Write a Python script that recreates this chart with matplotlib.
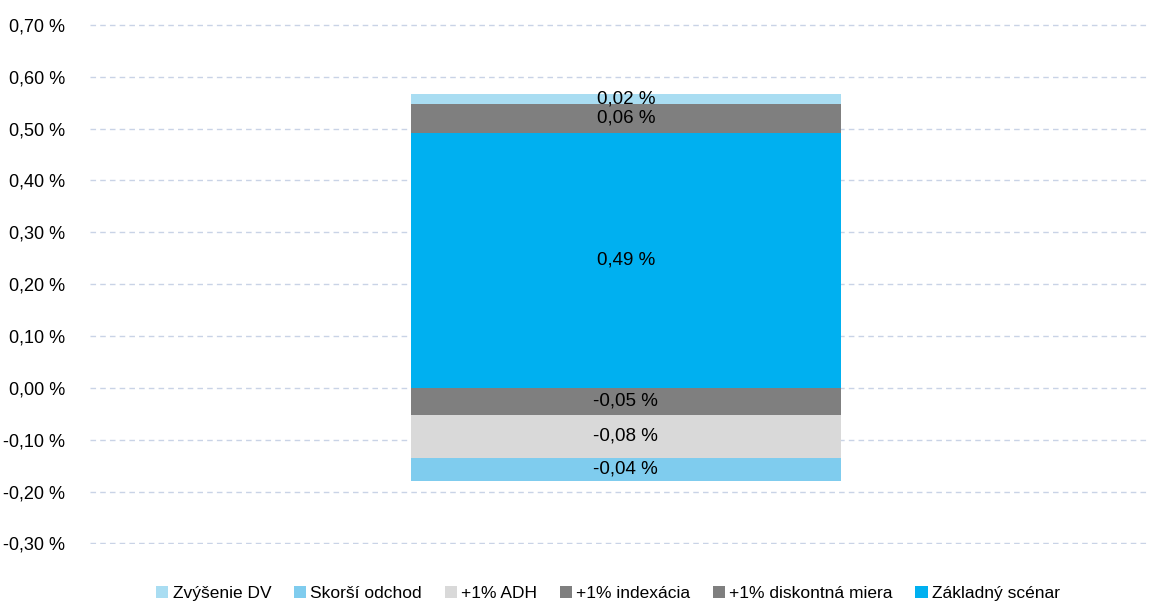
import matplotlib
matplotlib.use("Agg")
import matplotlib.pyplot as plt
from matplotlib import font_manager

# series in stacking order (bottom first), values in %
series = ["Základný scénar", "+1% diskontná miera", "+1% indexácia",
          "+1% ADH", "Skorší odchod", "Zvýšenie DV"]
values = [0.492, -0.052, 0.055, -0.083, -0.044, 0.020]
colors = ["#00B0F0", "#7F7F7F", "#7F7F7F", "#D9D9D9", "#7FCCEE", "#A9DDF2"]
yticks = [-0.3, -0.2, -0.1, 0.0, 0.1, 0.2, 0.3, 0.4, 0.5, 0.6, 0.7]

names = {f.name for f in font_manager.fontManager.ttflist}
fam = "Liberation Sans Narrow" if "Liberation Sans Narrow" in names else "Liberation Sans"
plt.rcParams["font.family"] = [fam, "DejaVu Sans"]

def pct(v):
    return f"{v:.2f} %".replace(".", ",")

fig = plt.figure(figsize=(11.52, 6.08), dpi=100)
ax = fig.add_axes([0.078, 0.105, 0.92, 0.8555])

pos_base = 0.0
neg_base = 0.0
handles = []
for name, v, c in zip(series, values, colors):
    base = pos_base if v >= 0 else neg_base
    b = ax.bar(0, v, bottom=base, width=0.406, color=c, label=name, zorder=3)
    handles.append(b)
    ax.text(0, base + v / 2, pct(v), ha="center", va="center", fontsize=13.5,
            color="black", zorder=4)
    if v >= 0:
        pos_base += v
    else:
        neg_base += v

ax.set_xlim(-0.5057, 0.4943)
ax.set_ylim(-0.3015, 0.7015)
ax.set_yticks(yticks)
ax.set_yticklabels([pct(t) for t in yticks], fontsize=13)
ax.set_xticks([])
ax.grid(axis="y", color="#C9D3E6", linestyle=(0, (4, 3)), linewidth=1, zorder=0)
for s in ax.spines.values():
    s.set_visible(False)
ax.tick_params(axis="y", length=0, pad=18)

# legend in reversed order like the source
leg = ax.legend(handles[::-1], series[::-1], loc="center", bbox_to_anchor=(0.489, -0.095),
                ncol=6, frameon=False, fontsize=12.5, handlelength=0.7, handleheight=0.7,
                handletextpad=0.25, columnspacing=1.3)

fig.savefig("out.png", dpi=100)
